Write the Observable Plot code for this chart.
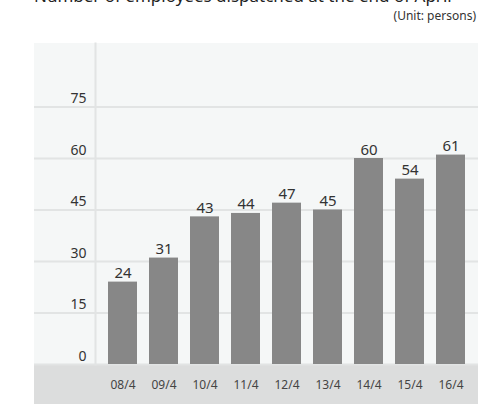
<!DOCTYPE html>
<html>
<head>
<meta charset="utf-8">
<script src="https://cdn.jsdelivr.net/npm/d3@7"></script>
<script src="https://cdn.jsdelivr.net/npm/@observablehq/plot@0.6"></script>
<style>
  html, body { margin: 0; padding: 0; background: #fff; overflow: hidden; }
  #head { position: relative; width: 480px; height: 43px; font-family: "Noto Sans", sans-serif; }
  #title { position: absolute; left: 34px; top: -14px; font-size: 17px; line-height: 20px; color: #222; white-space: nowrap; }
  #unit { position: absolute; right: 4px; top: 8px; font-size: 12px; line-height: 16px; color: #333; white-space: nowrap; }
  #chart { margin-left: 34px; }
</style>
</head>
<body>
<div id="head">
  <div id="title">Number of employees dispatched at the end of April</div>
  <div id="unit">(Unit: persons)</div>
</div>
<div id="chart"></div>
<script>
const categories = ["08/4", "09/4", "10/4", "11/4", "12/4", "13/4", "14/4", "15/4", "16/4"];
const values = [24, 31, 43, 44, 47, 45, 60, 54, 61];
const yTicks = [0, 15, 30, 45, 60, 75];

const data = categories.map((c, i) => ({year: c, value: values[i]}));

const chart = Plot.plot({
  width: 444,
  height: 361,
  marginLeft: 61,
  marginRight: 0,
  marginTop: 0,
  marginBottom: 40,
  style: {
    background: "linear-gradient(to bottom, #f5f7f7 0px, #f5f7f7 321px, #dcdddd 321px, #dcdddd 100%)",
    fontFamily: "'Noto Sans', sans-serif",
    color: "#333",
    overflow: "visible"
  },
  x: {domain: categories, padding: 0.3, label: null},
  y: {domain: [0, 93.5], label: null},
  marks: [
    Plot.ruleY(yTicks, {stroke: "#e2e4e4", strokeWidth: 2, insetLeft: -61}),
    Plot.frame({anchor: "left", stroke: "#e2e4e4", strokeWidth: 2}),
    Plot.barY(data, {x: "year", y: "value", fill: "#878787"}),
    Plot.text(data, {x: "year", y: "value", text: d => String(d.value), lineAnchor: "bottom", dy: -4, fontSize: 15, fill: "#333"}),
    Plot.axisY(yTicks, {tickSize: 0, tickPadding: 9, fontSize: 14, lineAnchor: "bottom", dy: -4, label: null}),
    Plot.axisX({tickSize: 0, tickPadding: 16, fontSize: 12, label: null, fill: "#444"})
  ]
});
document.getElementById("chart").appendChild(chart);
</script>
</body>
</html>
